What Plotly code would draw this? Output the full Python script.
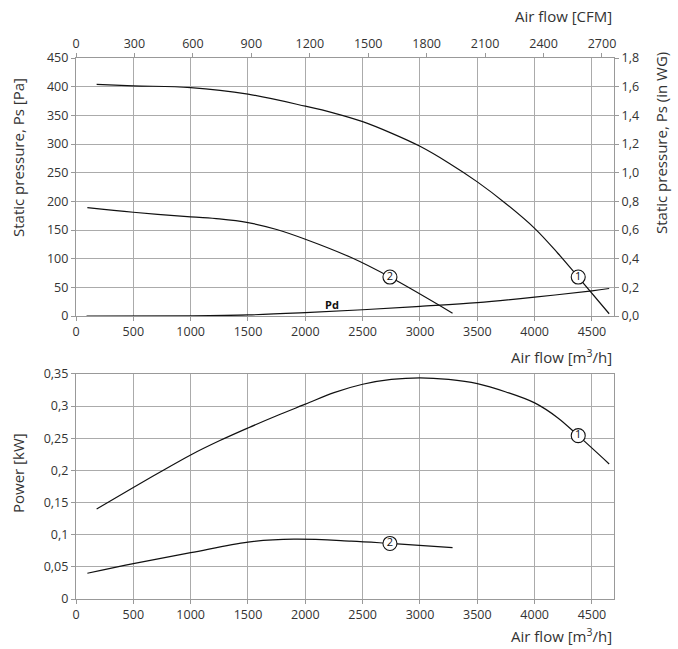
import plotly.graph_objects as go

# ---- data ----
# Static pressure, curve 1
ps1_flow = [180, 500, 1000, 1500, 2000, 2250, 2500, 2750, 3000, 3250, 3500, 3750, 4000, 4200, 4380, 4650]
ps1_pa = [404, 401.5, 398.5, 387, 366, 354, 339, 319, 296, 267, 234, 196, 153, 110, 68, 4]
# Static pressure, curve 2
ps2_flow = [99, 500, 1000, 1250, 1500, 1750, 2000, 2400, 2738, 3284]
ps2_pa = [189, 181, 173, 169.5, 163, 151, 134, 102, 68, 5]
# Dynamic pressure Pd
pd_flow = [92, 1000, 1500, 2000, 2500, 3000, 3500, 4000, 4500, 4650]
pd_pa = [0, 0.5, 2, 6, 11, 17, 23.5, 33, 44, 48]
# Power, curve 1
pw1_flow = [180, 500, 750, 1000, 1250, 1500, 1750, 2000, 2250, 2500, 2750, 3000, 3250, 3500, 3750,
            4000, 4200, 4380, 4650]
pw1_kw = [0.140, 0.1735, 0.199, 0.224, 0.246, 0.266, 0.285, 0.303, 0.321, 0.334, 0.3415, 0.344, 0.3415,
          0.335, 0.322, 0.305, 0.282, 0.254, 0.210]
# Power, curve 2
pw2_flow = [99, 500, 1000, 1500, 1900, 2400, 2738, 3284]
pw2_kw = [0.040, 0.055, 0.072, 0.0885, 0.093, 0.090, 0.0864, 0.080]

# curve number labels
lbl_text = ["1", "2"]
lbl_ps_flow = [4380, 2738]
lbl_ps_pa = [68, 68]
lbl_pw_flow = [4380, 2738]
lbl_pw_kw = [0.254, 0.0864]
pd_label = ("Pd", 2230, 20)

X_MAX = 4692
CFM_PER_M3H = 1 / 1.699
PA_MAX = 450
INWG_MAX = 1.8
KW_MAX = 0.35

FONT = "Open Sans"
TXT = "#333333"
GRID = "#ababab"
LINE = "#999999"

fig = go.Figure()
line_style = dict(color="#111111", width=1.2, shape="spline", smoothing=1.0)

fig.add_trace(go.Scatter(x=ps1_flow, y=ps1_pa, mode="lines", line=line_style, xaxis="x", yaxis="y"))
fig.add_trace(go.Scatter(x=ps2_flow, y=ps2_pa, mode="lines", line=line_style, xaxis="x", yaxis="y"))
fig.add_trace(go.Scatter(x=pd_flow, y=pd_pa, mode="lines", line=line_style, xaxis="x", yaxis="y"))
fig.add_trace(go.Scatter(x=pw1_flow, y=pw1_kw, mode="lines", line=line_style, xaxis="x2", yaxis="y2"))
fig.add_trace(go.Scatter(x=pw2_flow, y=pw2_kw, mode="lines", line=line_style, xaxis="x2", yaxis="y2"))

marker_style = dict(symbol="circle", size=14, color="white", line=dict(color="#111111", width=1.1))
fig.add_trace(go.Scatter(x=lbl_ps_flow, y=lbl_ps_pa, mode="markers+text", text=lbl_text,
                         textposition="middle center", marker=marker_style,
                         textfont=dict(family=FONT, size=11, color="#111111"), xaxis="x", yaxis="y"))
fig.add_trace(go.Scatter(x=lbl_pw_flow, y=lbl_pw_kw, mode="markers+text", text=lbl_text,
                         textposition="middle center", marker=marker_style,
                         textfont=dict(family=FONT, size=11, color="#111111"), xaxis="x2", yaxis="y2"))
# invisible trace so the secondary (CFM / in WG) axes render
fig.add_trace(go.Scatter(x=[0], y=[0], mode="markers", marker=dict(opacity=0), hoverinfo="skip",
                         xaxis="x3", yaxis="y3"))

axis_common = dict(showline=True, linecolor=LINE, linewidth=1.2, ticks="outside", ticklen=4,
                   tickcolor=LINE, tickfont=dict(family=FONT, size=12.5, color=TXT), zeroline=False)

top_dom = [0.523, 1.0]
bot_dom = [0.0, 0.416]

fig.update_layout(
    width=678, height=649,
    margin=dict(l=76, r=64, t=58, b=50),
    paper_bgcolor="white", plot_bgcolor="white",
    showlegend=False,
    separators=", ",
    font=dict(family=FONT, color=TXT),
    xaxis=dict(domain=[0, 1], anchor="y", range=[0, X_MAX], dtick=500, showgrid=True,
               gridcolor=GRID, gridwidth=1, **axis_common),
    yaxis=dict(domain=top_dom, anchor="x", range=[0, PA_MAX], dtick=50, showgrid=True,
               gridcolor=GRID, gridwidth=1, **axis_common),
    xaxis2=dict(domain=[0, 1], anchor="y2", range=[0, X_MAX], dtick=500, showgrid=True,
                gridcolor=GRID, gridwidth=1, mirror=True, **axis_common),
    yaxis2=dict(domain=bot_dom, anchor="x2", range=[0, KW_MAX], dtick=0.05, showgrid=True,
                gridcolor=GRID, gridwidth=1, mirror=True, **axis_common),
    xaxis3=dict(overlaying="x", side="top", anchor="y", range=[0, X_MAX * CFM_PER_M3H], dtick=300,
                showgrid=False, **axis_common),
    yaxis3=dict(overlaying="y", side="right", anchor="x", range=[0, INWG_MAX], dtick=0.2,
                tickformat=".1f", showgrid=False, **axis_common),
)

def px_to_paper_y(py):
    return (649 - 50 - py) / (649 - 58 - 50)

def px_to_paper_x(px):
    return (px - 76) / (678 - 76 - 64)

title_font = dict(family=FONT, size=15, color=TXT)
ann = [
    dict(text="Air flow [CFM]", x=1, xanchor="right", y=px_to_paper_y(16), yanchor="middle"),
    dict(text="Air flow [m<sup>3</sup>/h]", x=1, xanchor="right", y=px_to_paper_y(356), yanchor="middle"),
    dict(text="Air flow [m<sup>3</sup>/h]", x=1, xanchor="right", y=px_to_paper_y(635), yanchor="middle"),
    dict(text="Static pressure, Ps [Pa]", x=px_to_paper_x(18), xanchor="center", y=px_to_paper_y(158),
         yanchor="middle", textangle=-90),
    dict(text="Static pressure, Ps (in WG)", x=px_to_paper_x(661), xanchor="center", y=px_to_paper_y(143),
         yanchor="middle", textangle=-90),
    dict(text="Power [kW]", x=px_to_paper_x(18), xanchor="center", y=px_to_paper_y(473),
         yanchor="middle", textangle=-90),
]
for a in ann:
    a.update(xref="paper", yref="paper", showarrow=False, font=title_font)
    fig.add_annotation(**a)

fig.add_annotation(text="<b>" + pd_label[0] + "</b>", x=pd_label[1], y=pd_label[2], xref="x", yref="y",
                   showarrow=False, font=dict(family=FONT, size=11, color="#111111"))

fig.write_html("out.html")
